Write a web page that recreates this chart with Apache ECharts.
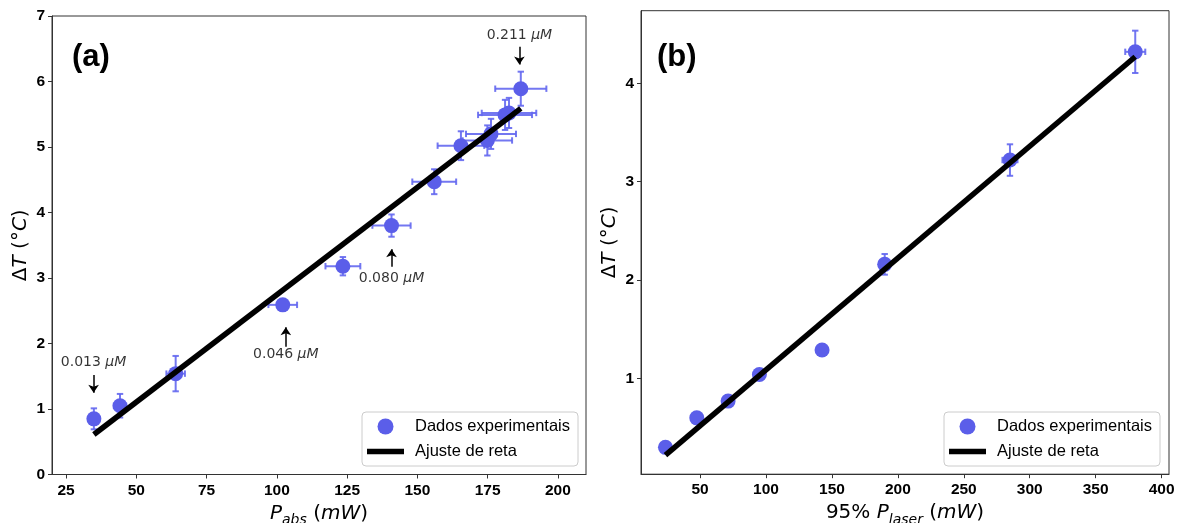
<!DOCTYPE html>
<html>
<head>
<meta charset="utf-8">
<script src="https://cdn.jsdelivr.net/npm/echarts@6/dist/echarts.min.js"></script>
<style>
html,body{margin:0;padding:0;background:#fff;}
#c{width:1182px;height:523px;}
</style>
</head>
<body>
<div id="c"></div>
<script>
// ---- Panel (a) data ----
const aX    = [34.9, 44.2, 64.0, 102.1, 123.5, 140.8, 156.0, 165.5, 174.9, 176.2, 181.2, 182.6, 186.8];
const aY    = [0.85, 1.05, 1.54, 2.59, 3.18, 3.80, 4.47, 5.02, 5.10, 5.20, 5.49, 5.52, 5.89];
const aXErr = [1.7, 2.2, 3.3, 5.1, 6.2, 6.8, 7.8, 8.3, 8.8, 8.9, 9.6, 9.7, 9.1];
const aYErr = [0.16, 0.18, 0.27, 0.05, 0.14, 0.17, 0.19, 0.22, 0.23, 0.23, 0.23, 0.23, 0.26];
const aFitX = [34.9, 186.8];
const aFitY = [0.61, 5.59];
const aXTicks = [25, 50, 75, 100, 125, 150, 175, 200];
const aYTicks = [0, 1, 2, 3, 4, 5, 6, 7];

// annotations (a)
const annNum   = ['0.013', '0.046', '0.080', '0.211'];
const annX     = [34.8, 103.2, 140.8, 186.3];
const annTextY = [1.71, 1.83, 3.00, 6.71];
const arrFromY = [1.52, 1.95, 3.17, 6.53];
const arrToY   = [1.25, 2.25, 3.44, 6.26];

// ---- Panel (b) data ----
const bX    = [23.75, 47.5, 71.25, 95, 142.5, 190, 285, 380];
const bY    = [0.30, 0.60, 0.77, 1.04, 1.29, 2.16, 3.22, 4.32];
const bXErr = [0.5, 1.0, 1.4, 1.9, 2.9, 3.8, 5.7, 7.6];
const bYErr = [0.01, 0.01, 0.02, 0.02, 0.02, 0.105, 0.16, 0.215];
const bFitX = [23.75, 380];
const bFitY = [0.22, 4.27];
const bXTicks = [50, 100, 150, 200, 250, 300, 350, 400];
const bYTicks = [1, 2, 3, 4];

const MARK = '#5b5ee9';
const ERR = 'rgba(100,104,240,0.9)';
const AX = '#333';
const tickFont = {fontFamily:'Liberation Sans', fontWeight:'bold', fontSize:15.5, color:'#000'};

function errRender(params, api){
  const x = api.value(0), y = api.value(1), ex = api.value(2), ey = api.value(3);
  const l = api.coord([x-ex, y]), r = api.coord([x+ex, y]);
  const t = api.coord([x, y+ey]), b = api.coord([x, y-ey]);
  const cap = 3.2;
  const st = {stroke: ERR, lineWidth: 2};
  const ch = [];
  if (r[0]-l[0] > 1) {
    ch.push({type:'line', shape:{x1:l[0],y1:l[1],x2:r[0],y2:r[1]}, style:st});
    ch.push({type:'line', shape:{x1:l[0],y1:l[1]-cap,x2:l[0],y2:l[1]+cap}, style:st});
    ch.push({type:'line', shape:{x1:r[0],y1:r[1]-cap,x2:r[0],y2:r[1]+cap}, style:st});
  }
  if (b[1]-t[1] > 1) {
    ch.push({type:'line', shape:{x1:t[0],y1:t[1],x2:b[0],y2:b[1]}, style:st});
    ch.push({type:'line', shape:{x1:t[0]-cap,y1:t[1],x2:t[0]+cap,y2:t[1]}, style:st});
    ch.push({type:'line', shape:{x1:b[0]-cap,y1:b[1],x2:b[0]+cap,y2:b[1]}, style:st});
  }
  return {type:'group', children: ch};
}

function nameStyle(){
  return {
    color:'#000', fontFamily:'DejaVu Sans', fontSize:20,
    rich:{
      n:{fontFamily:'DejaVu Sans', fontSize:20, lineHeight:28, color:'#000'},
      i:{fontFamily:'DejaVu Sans', fontSize:20, fontStyle:'italic', lineHeight:28, color:'#000'},
      s:{fontFamily:'DejaVu Sans', fontSize:14, fontStyle:'italic', lineHeight:16, verticalAlign:'bottom', color:'#000'}
    }
  };
}
function xAxisOf(idx, min, max, ticks, nameRich){
  return {
    type:'value', gridIndex: idx, min, max,
    axisLine:{show:true, lineStyle:{color:AX, width:1}},
    axisTick:{show:true, length:4, lineStyle:{color:AX}, customValues: ticks},
    axisLabel:Object.assign({margin:8, customValues: ticks}, tickFont),
    splitLine:{show:false},
    name: nameRich, nameLocation:'middle', nameGap: 24,
    nameTextStyle: nameStyle()
  };
}
function yAxisOf(idx, min, max, ticks){
  return {
    type:'value', gridIndex: idx, min, max,
    axisLine:{show:true, lineStyle:{color:AX, width:1}},
    axisTick:{show:true, length:4, lineStyle:{color:AX}, customValues: ticks},
    axisLabel:Object.assign({margin:7, customValues: ticks}, tickFont),
    splitLine:{show:false},
    name:'{n|Δ}{i|T}{n| (°}{i|C}{n|)}', nameLocation:'middle', nameGap: 17,
    nameTextStyle: nameStyle()
  };
}

function legendOf(right){
  return {
    orient:'vertical', right: right, bottom: 57,
    itemWidth: 37, itemHeight: 16, itemGap: 8,
    backgroundColor:'rgba(255,255,255,0.8)', borderColor:'#cccccc', borderWidth:1, borderRadius:4,
    padding:[6, 8, 6, 5],
    selectedMode:false,
    textStyle:{fontFamily:'Liberation Sans', fontSize:16.5, color:'#000', padding:[0,0,0,6]},
    data:[
      {name:'Dados experimentais', icon:'circle'},
      {name:'Ajuste de reta', icon:'path://M0 0H37V5.5H0Z'}
    ]
  };
}

const option = {
  backgroundColor:'#fff',
  animation:false,
  title:[
    {text:'(a)', left:72, top:42, padding:0, textStyle:{fontFamily:'Liberation Sans', fontWeight:'bold', fontSize:31, color:'#000'}},
    {text:'(b)', left:657, top:42, padding:0, textStyle:{fontFamily:'Liberation Sans', fontWeight:'bold', fontSize:31, color:'#000'}}
  ],
  grid:[
    {left:52, top:16, width:534, height:458.5, show:true, borderColor:AX, borderWidth:1, backgroundColor:'transparent', containLabel:false, outerBoundsMode:'none'},
    {left:641, top:10.7, width:528, height:463.5, show:true, borderColor:AX, borderWidth:1, backgroundColor:'transparent', containLabel:false, outerBoundsMode:'none'}
  ],
  xAxis:[
    xAxisOf(0, 20, 210, aXTicks, '{i|P}{s|abs}{n| (}{i|mW}{n|)}'),
    xAxisOf(1, 5.2, 405.6, bXTicks, '{n|95% }{i|P}{s|laser}{n| (}{i|mW}{n|)}')
  ],
  yAxis:[
    yAxisOf(0, 0, 7, aYTicks),
    yAxisOf(1, 0.027, 4.738, bYTicks)
  ],
  legend:[legendOf(604), legendOf(22)],
  series:[
    // panel a
    {type:'custom', name:'errA', xAxisIndex:0, yAxisIndex:0, z:2,
     data:aX.map((x,i)=>[x, aY[i], aXErr[i], aYErr[i]]), renderItem: errRender, silent:true},
    {type:'scatter', name:'Dados experimentais', xAxisIndex:0, yAxisIndex:0, z:3,
     symbolSize:15, itemStyle:{color:MARK, opacity:1},
     data:aX.map((x,i)=>[x, aY[i]])},
    {type:'line', name:'Ajuste de reta', xAxisIndex:0, yAxisIndex:0, z:4,
     showSymbol:false, symbol:'none', color:'#000', lineStyle:{color:'#000', width:5.5},
     itemStyle:{color:'#000'},
     data:aFitX.map((x,i)=>[x, aFitY[i]])},
    {type:'scatter', name:'annText', xAxisIndex:0, yAxisIndex:0, z:5, silent:true,
     symbolSize:1, itemStyle:{color:'rgba(0,0,0,0)'},
     label:{show:true, position:'inside', color:'#000',
       formatter: p => '{n|' + p.name + ' }{i|μM}',
       rich:{
         n:{fontFamily:'DejaVu Sans', fontSize:14, color:'#000'},
         i:{fontFamily:'DejaVu Sans', fontSize:14, fontStyle:'italic', color:'#000'}
       }},
     data:annX.map((x,i)=>({name:annNum[i], value:[x, annTextY[i]]}))},
    {type:'lines', name:'annArrow', coordinateSystem:'cartesian2d', xAxisIndex:0, yAxisIndex:0, z:5, silent:true,
     symbol:['none','arrow'], symbolSize:8,
     lineStyle:{color:'#000', width:1.5, opacity:1},
     data:annX.map((x,i)=>({coords:[[x, arrFromY[i]],[x, arrToY[i]]]}))},
    // panel b
    {type:'custom', name:'errB', xAxisIndex:1, yAxisIndex:1, z:2,
     data:bX.map((x,i)=>[x, bY[i], bXErr[i], bYErr[i]]), renderItem: errRender, silent:true},
    {type:'scatter', name:'Dados experimentais', xAxisIndex:1, yAxisIndex:1, z:3,
     symbolSize:15, itemStyle:{color:MARK, opacity:1},
     data:bX.map((x,i)=>[x, bY[i]])},
    {type:'line', name:'Ajuste de reta', xAxisIndex:1, yAxisIndex:1, z:4,
     showSymbol:false, symbol:'none', color:'#000', lineStyle:{color:'#000', width:5.5},
     itemStyle:{color:'#000'},
     data:bFitX.map((x,i)=>[x, bFitY[i]])}
  ]
};

const chart = echarts.init(document.getElementById('c'), null, {renderer:'canvas'});
chart.setOption(option);
</script>
</body>
</html>
